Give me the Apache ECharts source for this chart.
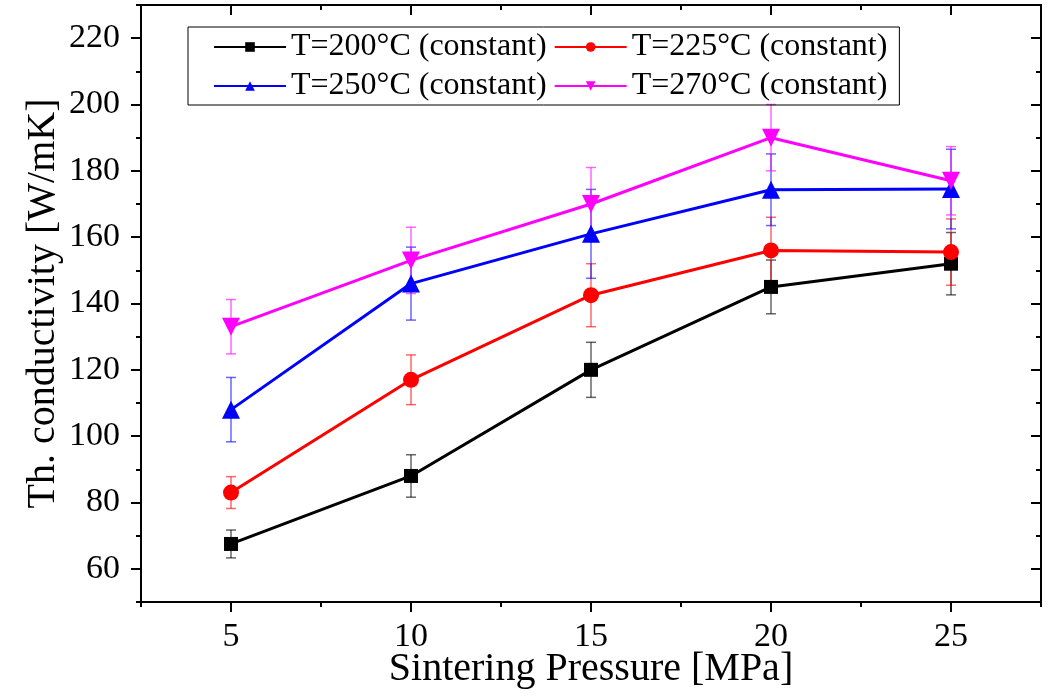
<!DOCTYPE html>
<html>
<head>
<meta charset="utf-8">
<script src="https://cdn.jsdelivr.net/npm/echarts@6/dist/echarts.min.js"></script>
<style>
  html, body { margin: 0; padding: 0; background: #fff; }
  #main { width: 1051px; height: 699px; }
</style>
</head>
<body>
<div id="main"></div>
<script>
// 数据
var pressure = [5, 10, 15, 20, 25];
var names = ['T=200°C (constant)', 'T=225°C (constant)', 'T=250°C (constant)', 'T=270°C (constant)'];
var k200 = [67.5, 88, 120, 145, 152];
var k225 = [83, 117, 142.5, 156, 155.5];
var k250 = [108, 146, 161, 174.3, 174.5];
var k270 = [133, 153, 170, 190, 177];
var e200 = [4.2, 6.4, 8.3, 8.1, 9.4];
var e225 = [4.8, 7.5, 9.5, 10, 10];
var e250 = [9.7, 11, 13.4, 10.8, 12];
var e270 = [8.2, 10, 11, 10, 10.3];

var xMajor = [5, 10, 15, 20, 25];
var xMinor = [2.5, 7.5, 12.5, 17.5, 22.5, 27.5];
var yMajor = [60, 80, 100, 120, 140, 160, 180, 200, 220];
var yMinor = [50, 70, 90, 110, 130, 150, 170, 190, 210, 230];

var colors = ['#000000', '#ff0000', '#0000ff', '#ff00ff'];
var font = 'Liberation Serif';

function lineSeries(i, vals, symbol, size, rotate) {
	return {
		name: names[i],
		type: 'line',
		xAxisIndex: 0,
		yAxisIndex: 0,
		data: pressure.map(function (p, j) { return [p, vals[j]]; }),
		symbol: symbol,
		symbolSize: size,
		symbolRotate: rotate || 0,
		showAllSymbol: true,
		itemStyle: { color: colors[i] },
		lineStyle: { color: colors[i], width: 3 },
		z: 5
	};
}

// 误差线
function errSeries(i, vals, errs) {
	return {
		type: 'custom',
		xAxisIndex: 0,
		yAxisIndex: 0,
		data: pressure.map(function (p, j) { return [p, vals[j] - errs[j], vals[j] + errs[j]]; }),
		renderItem: function (params, api) {
			var lo = api.coord([api.value(0), api.value(1)]);
			var hi = api.coord([api.value(0), api.value(2)]);
			var w = 5;
			var st = { stroke: colors[i], lineWidth: 1.5, opacity: 0.6 };
			return {
				type: 'group',
				children: [
					{ type: 'line', shape: { x1: lo[0], y1: lo[1], x2: hi[0], y2: hi[1] }, style: st },
					{ type: 'line', shape: { x1: lo[0] - w, y1: lo[1], x2: lo[0] + w, y2: lo[1] }, style: st },
					{ type: 'line', shape: { x1: hi[0] - w, y1: hi[1], x2: hi[0] + w, y2: hi[1] }, style: st }
				]
			};
		},
		silent: true,
		z: 3
	};
}

function xAx(opt) {
	var base = {
		type: 'value', min: 2.5, max: 27.5,
		splitLine: { show: false },
		axisLine: { show: true, lineStyle: { color: '#000', width: 2 } },
		axisLabel: { show: false },
		axisTick: { show: false }
	};
	for (var k in opt) base[k] = opt[k];
	return base;
}
function yAx(opt) {
	var base = {
		type: 'value', min: 50, max: 230,
		splitLine: { show: false },
		axisLine: { show: true, lineStyle: { color: '#000', width: 2 } },
		axisLabel: { show: false },
		axisTick: { show: false }
	};
	for (var k in opt) base[k] = opt[k];
	return base;
}

var chart = echarts.init(document.getElementById('main'));
chart.setOption({
	backgroundColor: '#fff',
	animation: false,
	textStyle: { fontFamily: font },
	grid: { left: 141, right: 10, top: 5, bottom: 97, outerBoundsMode: 'none', containLabel: false },
	legend: {
		left: 188, top: 27, width: 720,
		padding: [4, 12, 3, 25],
		itemGap: 7,
		itemWidth: 72, itemHeight: 12,
		borderColor: '#000', borderWidth: 1,
		textStyle: { fontFamily: font, fontSize: 32, color: '#000', lineHeight: 32 },
		data: names
	},
	xAxis: [
		xAx({
			position: 'bottom',
			name: 'Sintering Pressure [MPa]',
			nameLocation: 'middle', nameGap: 47, nameMoveOverlap: false,
			nameTextStyle: { fontFamily: font, fontSize: 40, color: '#000' },
			axisTick: { show: true, customValues: xMajor, length: 10, lineStyle: { color: '#000', width: 2 } },
			axisLabel: { show: true, customValues: xMajor, margin: 18, fontFamily: font, fontSize: 34, color: '#000' }
		}),
		xAx({ position: 'bottom', axisTick: { show: true, customValues: xMinor, length: 5, lineStyle: { color: '#000', width: 2 } } }),
		xAx({ position: 'top', axisTick: { show: true, inside: true, customValues: xMajor, length: 10, lineStyle: { color: '#000', width: 2 } } }),
		xAx({ position: 'top', axisTick: { show: true, inside: true, customValues: xMinor, length: 5, lineStyle: { color: '#000', width: 2 } } })
	],
	yAxis: [
		yAx({
			position: 'left',
			name: 'Th. conductivity [W/mK]',
			nameLocation: 'middle', nameGap: 78, nameMoveOverlap: false,
			nameTextStyle: { fontFamily: font, fontSize: 40, color: '#000' },
			axisTick: { show: true, customValues: yMajor, length: 10, lineStyle: { color: '#000', width: 2 } },
			axisLabel: { show: true, customValues: yMajor, margin: 21, fontFamily: font, fontSize: 34, color: '#000' }
		}),
		yAx({ position: 'left', axisTick: { show: true, customValues: yMinor, length: 5, lineStyle: { color: '#000', width: 2 } } }),
		yAx({ position: 'right', axisTick: { show: true, inside: true, customValues: yMajor, length: 10, lineStyle: { color: '#000', width: 2 } } }),
		yAx({ position: 'right', axisTick: { show: true, inside: true, customValues: yMinor, length: 5, lineStyle: { color: '#000', width: 2 } } })
	],
	series: [
		errSeries(0, k200, e200),
		errSeries(1, k225, e225),
		errSeries(2, k250, e250),
		errSeries(3, k270, e270),
		lineSeries(0, k200, 'rect', 14),
		lineSeries(1, k225, 'circle', 16),
		lineSeries(2, k250, 'triangle', 18),
		lineSeries(3, k270, 'triangle', 18, 180)
	]
});
</script>
</body>
</html>
